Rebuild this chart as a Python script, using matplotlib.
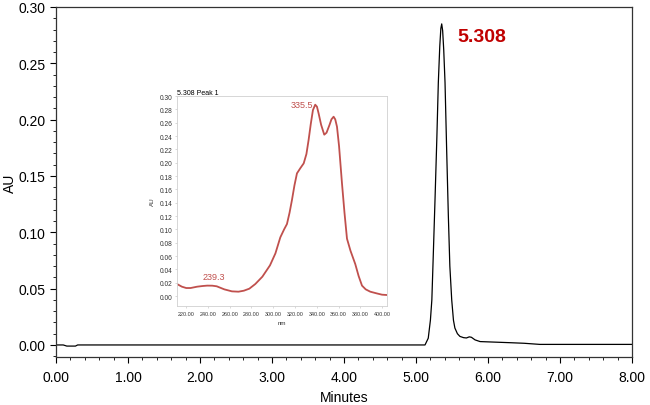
import matplotlib
matplotlib.use("Agg")
from matplotlib import pyplot as plt
from matplotlib.ticker import MultipleLocator, FormatStrFormatter

plt.rcParams['font.family'] = ['Liberation Sans', 'DejaVu Sans']

# chromatogram (minutes, AU)
minutes = [0.00, 0.10, 0.15, 0.20, 0.27, 0.30, 1.00, 2.00, 3.00, 4.00, 4.80,
           5.05, 5.125, 5.17, 5.20, 5.22, 5.24, 5.264, 5.29, 5.31, 5.33, 5.345,
           5.357, 5.37, 5.385, 5.403, 5.425, 5.449, 5.47, 5.496, 5.52, 5.54,
           5.575, 5.61, 5.66, 5.70, 5.74, 5.77, 5.82, 5.89, 6.10, 6.31, 6.50,
           6.72, 7.20, 8.00]
au = [0.000, 0.000, -0.001, -0.001, -0.001, 0.000, 0.000, 0.000, 0.000, 0.000, 0.000,
      0.000, 0.000, 0.006, 0.022, 0.040, 0.080, 0.129, 0.185, 0.233, 0.265, 0.281,
      0.285, 0.279, 0.262, 0.233, 0.175, 0.115, 0.070, 0.040, 0.022, 0.015,
      0.010, 0.0076, 0.0065, 0.0062, 0.0072, 0.0068, 0.0045, 0.003, 0.0025, 0.002, 0.0015,
      0.0005, 0.0005, 0.0005]

# UV spectrum of peak 1 (nm, AU)
wavelength = [211.5, 216, 220, 224, 230, 235, 239.3, 244, 248, 255, 262, 268, 273,
              278, 283.5, 290, 297, 302, 306.5, 310, 312.6, 315, 317.2, 319.5, 321.8,
              325, 328, 330.5, 332.5, 334.5, 336.5, 338.6, 340.2, 341.7, 344, 346.9,
              349, 351.8, 353.5, 355.5, 357, 358.6, 360.5, 363.2, 365.5, 367.8, 371,
              375.4, 378.5, 381.6, 385, 389.2, 395, 400, 404.6]
spec_au = [0.018, 0.014, 0.012, 0.012, 0.014, 0.015, 0.0156, 0.0155, 0.0146, 0.010,
           0.007, 0.0065, 0.008, 0.011, 0.018, 0.029, 0.046, 0.064, 0.088, 0.100, 0.108,
           0.125, 0.144, 0.166, 0.184, 0.192, 0.199, 0.213, 0.234, 0.258, 0.279, 0.287,
           0.284, 0.274, 0.257, 0.242, 0.245, 0.257, 0.265, 0.269, 0.265, 0.254, 0.225,
           0.169, 0.125, 0.086, 0.068, 0.048, 0.030, 0.0156, 0.010, 0.0065, 0.004,
           0.002, 0.0015]

main_label = "5.308"
inset_title = "5.308 Peak 1"
peak_nm = [239.3, 335.5]
peak_au = [0.0156, 0.287]

fig = plt.figure(figsize=(6.5, 4.06), dpi=100)
ax = fig.add_axes([0.0862, 0.1182, 0.8861, 0.8621])
ax.plot(minutes, au, color='black', lw=0.9)
ax.set_xlim(0, 8)
ax.set_ylim(-0.0107, 0.30)
ax.xaxis.set_major_locator(MultipleLocator(1))
ax.xaxis.set_minor_locator(MultipleLocator(0.2))
ax.yaxis.set_major_locator(MultipleLocator(0.05))
ax.yaxis.set_minor_locator(MultipleLocator(0.01))
ax.xaxis.set_major_formatter(FormatStrFormatter('%.2f'))
ax.yaxis.set_major_formatter(FormatStrFormatter('%.2f'))
ax.tick_params(which='major', length=4, width=0.8, labelsize=10)
ax.tick_params(axis='x', which='major', pad=5)
ax.tick_params(which='minor', length=2.5, width=0.6)
for s in ax.spines.values():
    s.set_linewidth(0.9)
    s.set_color('#333333')
ax.set_xlabel('Minutes', fontsize=10, labelpad=5)
ax.set_ylabel('AU', fontsize=10)
ax.yaxis.set_label_coords(-0.068, 0.5)
ax.text(5.57, 0.274, main_label, color='#c00000', fontsize=14, fontweight='bold',
        ha='left', va='center')

# inset spectrum
red = '#c0504d'
ins = fig.add_axes([0.2723, 0.2438, 0.3231, 0.5172])
ins.plot(wavelength, spec_au, color=red, lw=1.3)
ins.set_xlim(211.5, 404.6)
ins.set_ylim(-0.015, 0.30)
ins.set_xticks(range(220, 401, 20))
ins.set_yticks([i / 100 for i in range(0, 31, 2)])
ins.xaxis.set_major_formatter(FormatStrFormatter('%.2f'))
ins.yaxis.set_major_formatter(FormatStrFormatter('%.2f'))
ins.tick_params(length=1.5, width=0.4, color='#bbbbbb', labelcolor='#333333', pad=2)
ins.tick_params(axis='x', labelsize=3.9)
ins.tick_params(axis='y', labelsize=4.8)
for s in ins.spines.values():
    s.set_color('#d0d0d0')
    s.set_linewidth(0.6)
ins.set_xlabel('nm', fontsize=4.5, labelpad=3, color='#333333')
ins.set_ylabel('AU', fontsize=4.5, labelpad=3, color='#333333')
ins.set_title(inset_title, fontsize=5, loc='left', pad=1.5)
ins.annotate(f"{peak_nm[0]}", (peak_nm[0], peak_au[0]), xytext=(5, 3),
             textcoords='offset points', ha='center', va='bottom', color=red, fontsize=6.5)
ins.annotate(f"{peak_nm[1]}", (peak_nm[1], peak_au[1]), xytext=(1, -3),
             textcoords='offset points', ha='right', va='bottom', color=red, fontsize=6.5)

fig.savefig('out.png', dpi=100)
